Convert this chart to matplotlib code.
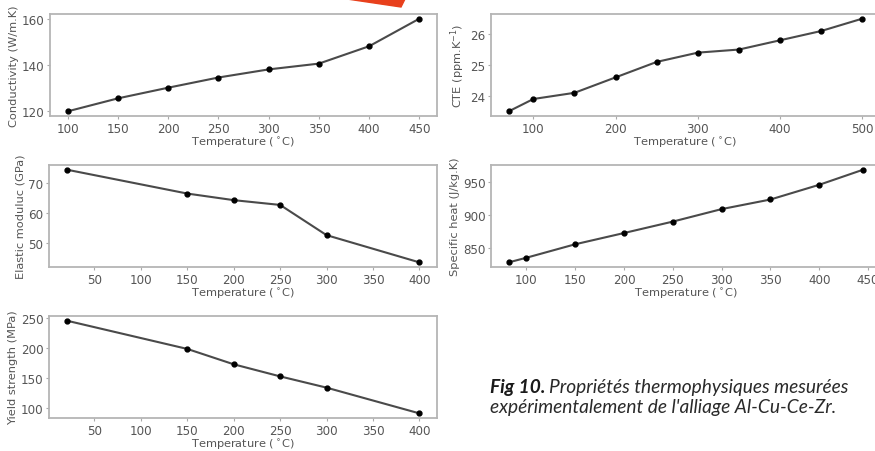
import matplotlib
matplotlib.use('Agg')
import matplotlib.pyplot as plt
from matplotlib.patches import Polygon

cond_t = [100, 150, 200, 250, 300, 350, 400, 450]
cond_v = [120, 125.6, 130.2, 134.6, 138.1, 140.6, 148.1, 160]

cte_t = [70, 100, 150, 200, 250, 300, 350, 400, 450, 500]
cte_v = [23.5, 23.9, 24.1, 24.6, 25.1, 25.4, 25.5, 25.8, 26.1, 26.5]

mod_t = [20, 150, 200, 250, 300, 400]
mod_v = [74.4, 66.4, 64.2, 62.6, 52.5, 43.4]

cp_t = [82, 100, 150, 200, 250, 300, 350, 400, 445]
cp_v = [828, 835, 855.5, 872.6, 890, 909, 923.6, 946, 969]

ys_t = [20, 150, 200, 250, 300, 400]
ys_v = [246, 198.7, 173, 152.8, 134, 91]

panels = [
    (cond_t, cond_v, 'Conductivity (W/m.K)', [50, 15, 437, 117]),
    (cte_t, cte_v, 'CTE (ppm.K$^{-1}$)', [491, 15, 880, 117]),
    (mod_t, mod_v, 'Elastic moduluc (GPa)', [49, 166, 437, 268]),
    (cp_t, cp_v, 'Specific heat (J/kg.K)', [491, 166, 881, 268]),
    (ys_t, ys_v, 'Yield strength (MPa)', [49, 317, 437, 419]),
]

W, H = 875, 452
fig = plt.figure(figsize=(W / 100, H / 100), dpi=100)

for t, v, ylab, (x0, y0, x1, y1) in panels:
    ax = fig.add_axes([x0 / W, 1 - y1 / H, (x1 - x0) / W, (y1 - y0) / H])
    ax.plot(t, v, color='#4a4a4a', lw=1.5, marker='o', ms=3.5,
            mfc='black', mec='black')
    ax.set_xlabel('Temperature ($^\\circ$C)', fontsize=8.2, color='#555555', labelpad=0)
    ax.set_ylabel(ylab, fontsize=8.2, color='#555555', labelpad=2)
    ax.tick_params(labelsize=8.6, colors='#555555', length=2.5, pad=1.5,
                   color='#aaaaaa')
    for s in ax.spines.values():
        s.set_color('#b5b5b5')
        s.set_linewidth(1.3)

# orange wedge at the top edge
wedge = Polygon([(347 / W, 1.0), (405 / W, 1.0), (401 / W, 1 - 8 / H)],
                closed=True, transform=fig.transFigure, color='#e8401c')
fig.patches.append(wedge)

# caption
fig.canvas.draw()
r = fig.canvas.get_renderer()
t1 = fig.text(490 / W, 1 - 387 / H, 'Fig 10.', fontsize=13.8, family='Lato',
              style='italic', weight='bold', va='center', color='#1a1a1a')
bb = t1.get_window_extent(renderer=r)
fig.text(bb.x1 / W + 4 / W, 1 - 387 / H, 'Propriétés thermophysiques mesurées',
         fontsize=13.8, family='Lato', style='italic', weight='normal',
         va='center', color='#2a2a2a')
fig.text(490 / W, 1 - 408 / H, "expérimentalement de l'alliage Al-Cu-Ce-Zr.",
         fontsize=13.8, family='Lato', style='italic', weight='normal',
         va='center', color='#2a2a2a')

fig.savefig('out.png', dpi=100)
